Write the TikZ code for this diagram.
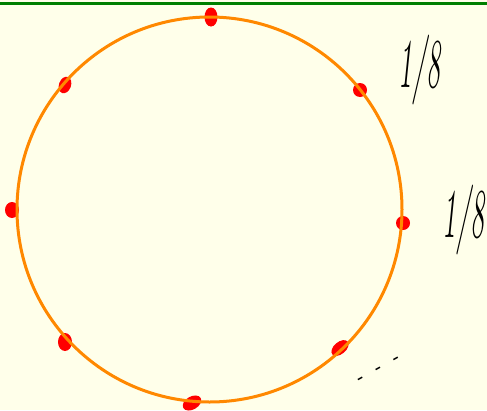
\documentclass[tikz,border=0pt]{standalone}
\definecolor{bgyellow}{RGB}{255,255,234}
\definecolor{topgreen}{RGB}{0,128,0}
\definecolor{ringorange}{RGB}{255,136,0}
\definecolor{dotred}{RGB}{255,0,0}
\tikzset{
  reddot/.style={fill=dotred, draw=none},
  ring/.style={draw=ringorange, line width=3pt},
  handtext/.style={font=\fontsize{70}{70}\selectfont\itshape, xscale=0.4, inner sep=0pt},
}
\begin{document}
\begin{tikzpicture}[x=1pt,y=-1pt]
  \fill[bgyellow] (0,0) rectangle (487,410);
  \useasboundingbox (0,0) rectangle (487,410);
  \draw[topgreen, line width=3.2pt] (0,3.8) -- (487,3.8);
  % red dots
  \fill[reddot] (211,17) ellipse [x radius=6.5, y radius=9.5];
  \fill[reddot, rotate around={-20:(65,85)}] (65,85) ellipse [x radius=6, y radius=8.5];
  \fill[reddot] (360,90) ellipse [x radius=7, y radius=7];
  \fill[reddot] (12,210) ellipse [x radius=7, y radius=8];
  \fill[reddot] (403,223) ellipse [x radius=7, y radius=7];
  \fill[reddot] (65,342) ellipse [x radius=7, y radius=9];
  \fill[reddot, rotate around={40:(340,348)}] (340,348) ellipse [x radius=10, y radius=6];
  \fill[reddot, rotate around={30:(192,403)}] (192,403) ellipse [x radius=10, y radius=6.5];
  % ring
  \node[circle, ring, minimum size=385pt, inner sep=0pt] (c) at (209.5,209.5) {};
  % labels
  \node[handtext] (t1) at (419,70) {1/8};
  \node[handtext] (t2) at (463,220) {1/8};
  \node[font=\fontsize{17}{17}\selectfont\bfseries, rotate=29, inner sep=0pt] (d) at (379,370) {-\hspace{14pt}-\hspace{14pt}-};
\end{tikzpicture}
\end{document}
